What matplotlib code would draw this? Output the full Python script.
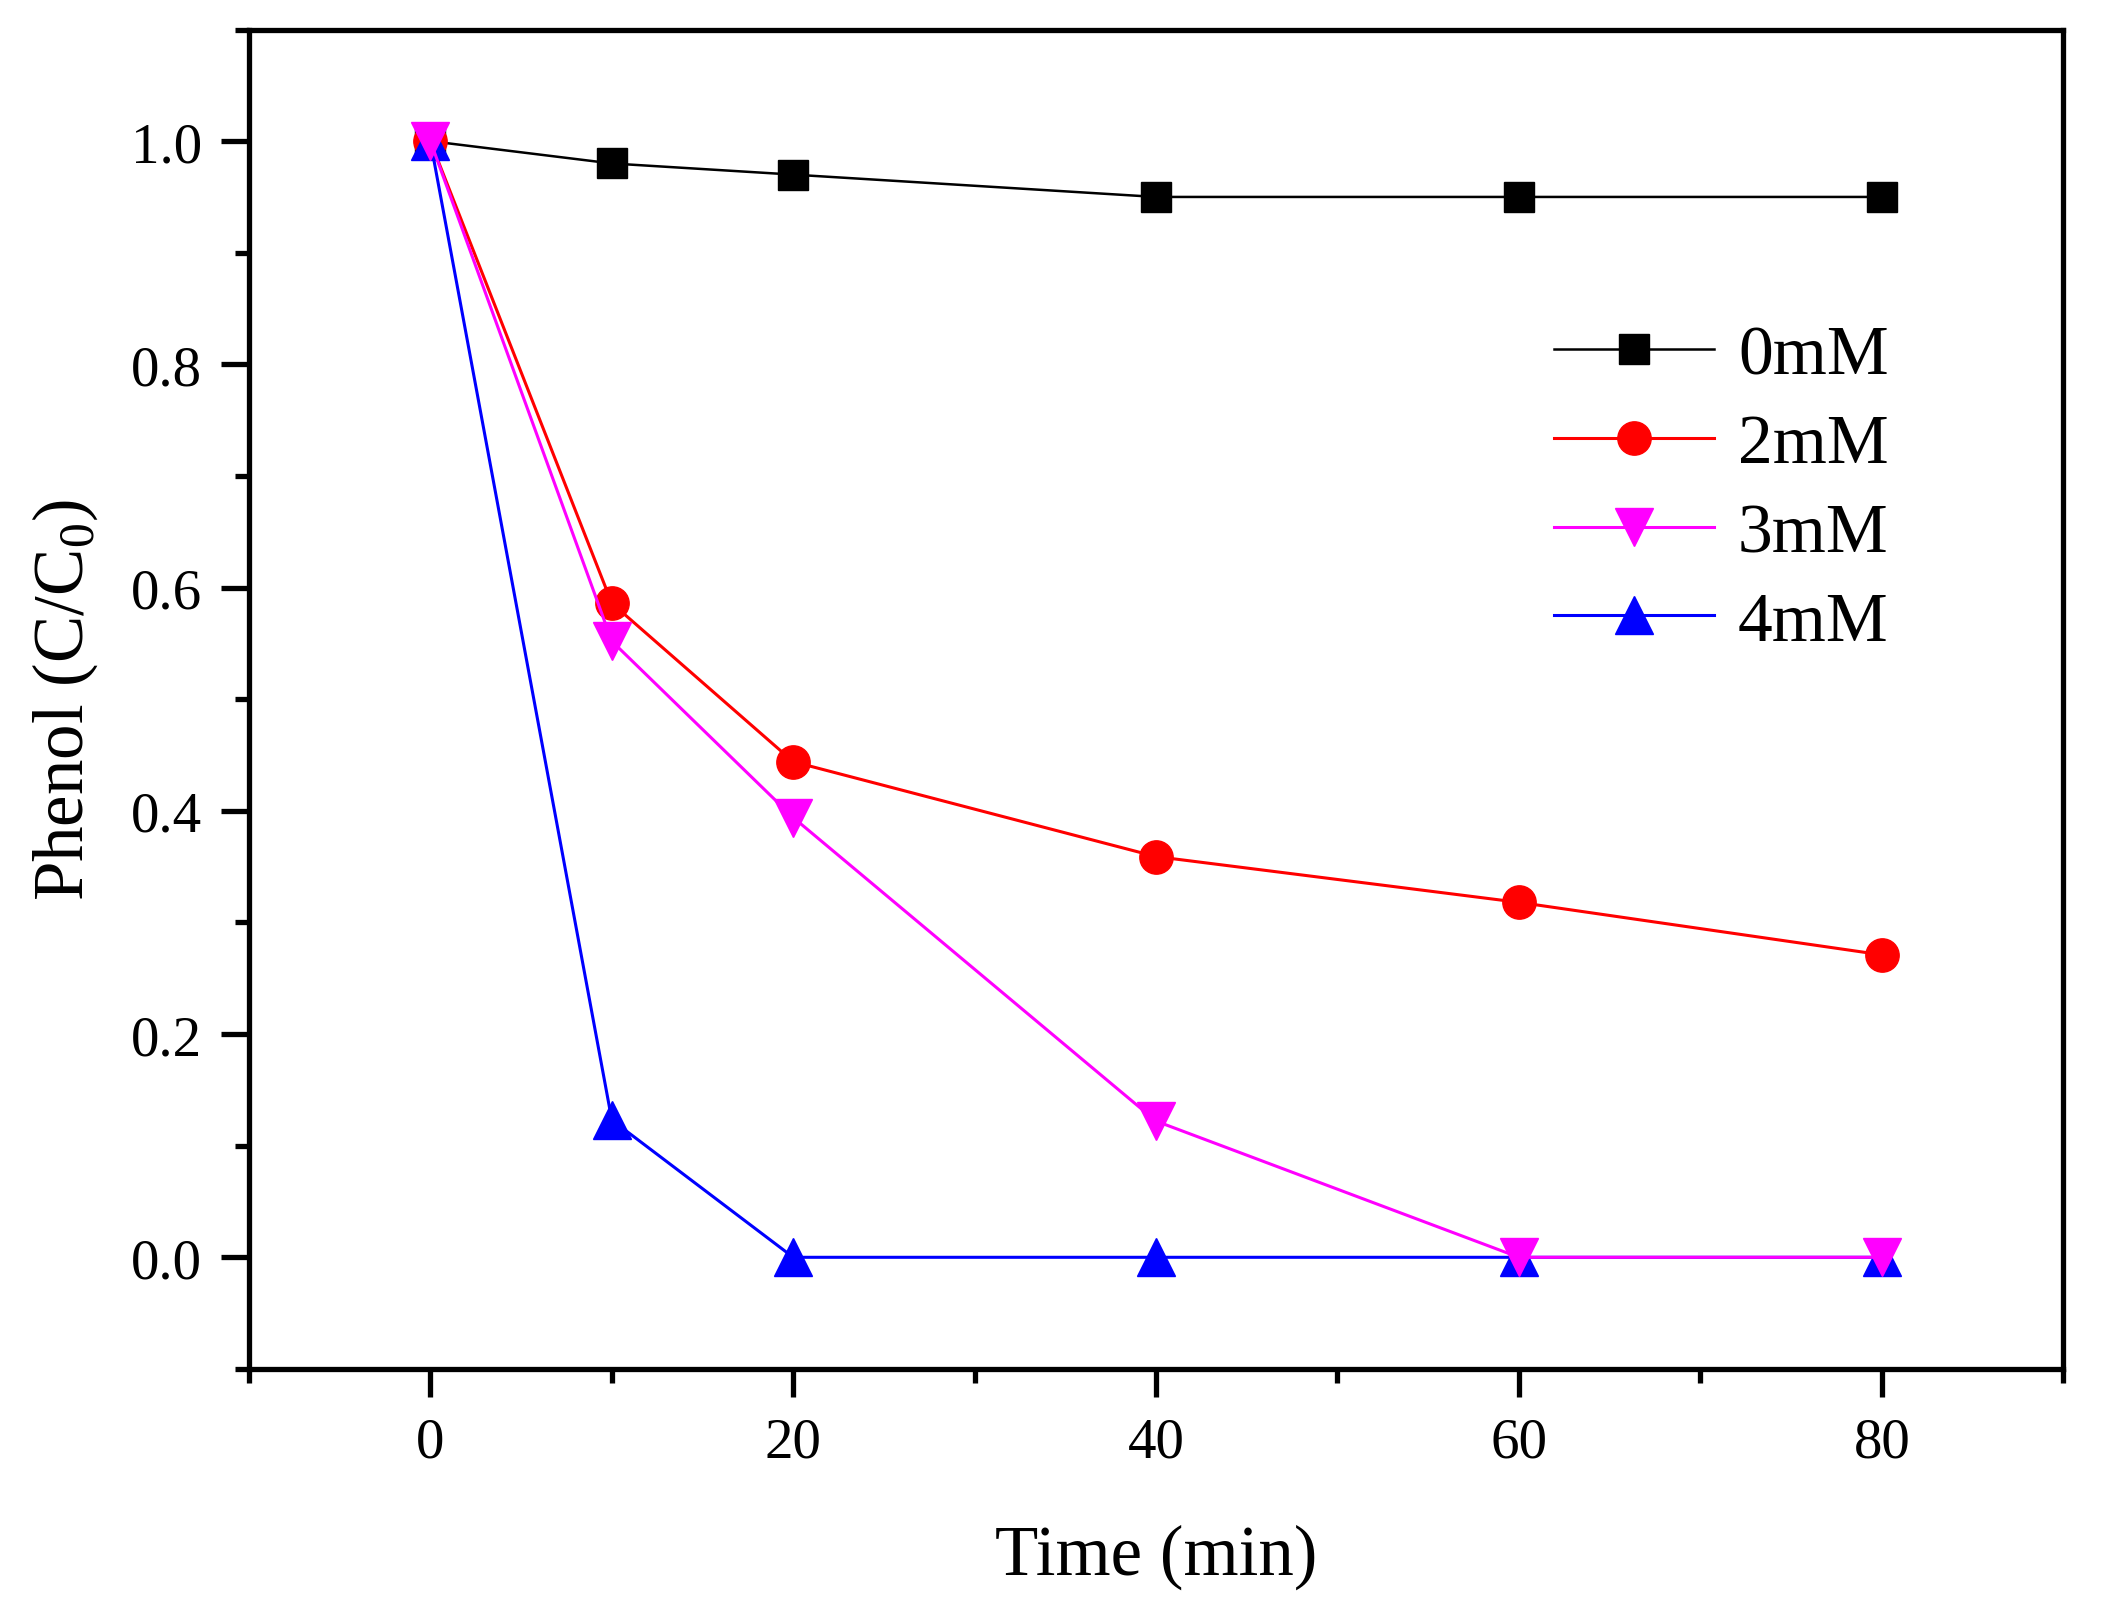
import matplotlib
matplotlib.use("Agg")
import matplotlib.pyplot as plt
from matplotlib.ticker import MultipleLocator

plt.rcParams['font.family'] = ['Liberation Serif', 'DejaVu Serif']
plt.rcParams['mathtext.fontset'] = 'custom'
plt.rcParams['mathtext.rm'] = 'Liberation Serif'

time_min = [0, 10, 20, 40, 60, 80]
c_0mM = [1.0, 0.98, 0.97, 0.95, 0.95, 0.95]
c_2mM = [1.0, 0.586, 0.444, 0.359, 0.318, 0.271]
c_3mM = [1.0, 0.552, 0.394, 0.122, 0.0, 0.0]
c_4mM = [1.0, 0.123, 0.0, 0.0, 0.0, 0.0]

fig = plt.figure(figsize=(21.01, 16.06), dpi=100)
ax = fig.add_axes([0.1185, 0.147, 0.8635, 0.834])

ax.plot(time_min, c_0mM, color='black', lw=1.8, marker='s', ms=22, label='0mM', zorder=3)
ax.plot(time_min, c_2mM, color='red', lw=2.2, marker='o', ms=24, label='2mM', zorder=4)
ax.plot(time_min, c_3mM, color='#ff00ff', lw=2.2, marker='v', ms=27, label='3mM', zorder=6)
ax.plot(time_min, c_4mM, color='blue', lw=2.2, marker='^', ms=27, label='4mM', zorder=5)

ax.set_xlim(-10, 90)
ax.set_ylim(-0.1, 1.1)
ax.xaxis.set_major_locator(MultipleLocator(20))
ax.xaxis.set_minor_locator(MultipleLocator(10))
ax.yaxis.set_major_locator(MultipleLocator(0.2))
ax.yaxis.set_minor_locator(MultipleLocator(0.1))
ax.yaxis.set_major_formatter(matplotlib.ticker.FormatStrFormatter('%.1f'))

for s in ax.spines.values():
    s.set_linewidth(3.8)

ax.tick_params(which='major', direction='out', length=20, width=3.8, labelsize=41, pad=14)
ax.tick_params(which='minor', direction='out', length=10, width=3.8)
ax.tick_params(top=False, right=False, which='both')

ax.set_xlabel('Time (min)', fontsize=51, labelpad=40)
ax.set_ylabel('Phenol (C/C$_\\mathregular{0}$)', fontsize=51, labelpad=22)

ax.legend(loc='upper left', bbox_to_anchor=(0.704, 0.8), frameon=False, fontsize=50,
          handlelength=2.3, handletextpad=0.35, labelspacing=0.36, borderaxespad=0)

fig.savefig('out.png', dpi=100)
